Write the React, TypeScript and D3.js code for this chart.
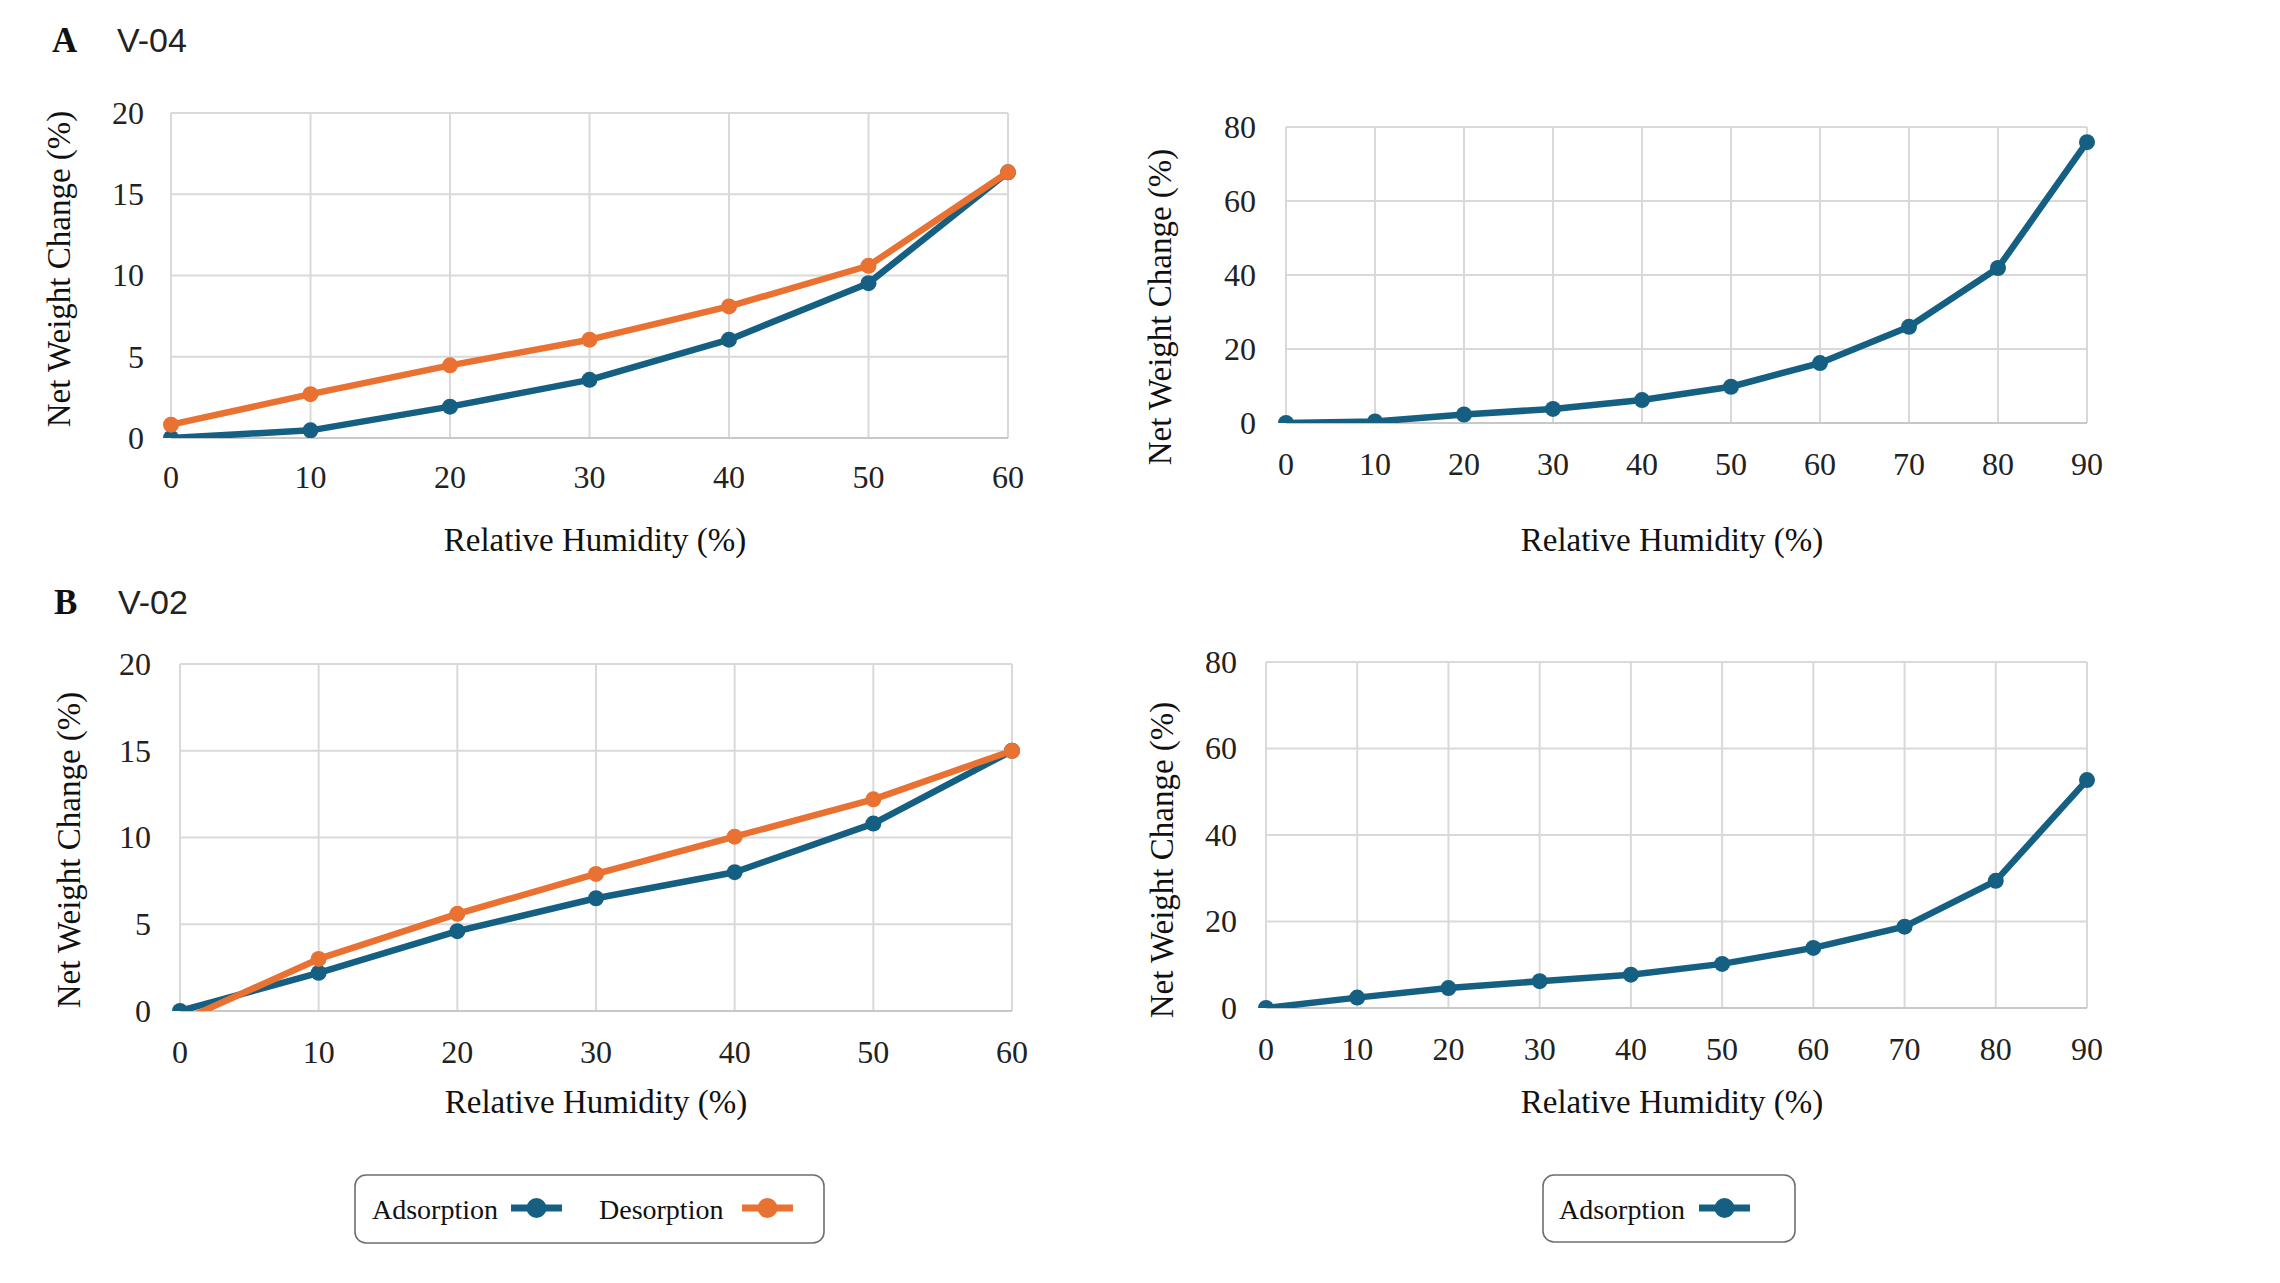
import React from "react";
import * as d3 from "d3";

// relative humidity steps
const rhShort = [0, 10, 20, 30, 40, 50, 60];
const rhLong = [0, 10, 20, 30, 40, 50, 60, 70, 80, 90];

// V-04
const v04Ads = [0, 0.47, 1.93, 3.58, 6.05, 9.53, 16.35];
const v04Des = [0.82, 2.7, 4.47, 6.05, 8.1, 10.6, 16.35];
const v04AdsLong = [0, 0.4, 2.3, 3.8, 6.2, 9.8, 16.2, 26.0, 41.9, 75.9];

// V-02
const v02Ads = [0, 2.2, 4.6, 6.5, 8.0, 10.8, 15.0];
const v02Des = [-0.6, 3.0, 5.6, 7.9, 10.05, 12.2, 15.0];
const v02AdsLong = [0, 2.4, 4.6, 6.2, 7.7, 10.2, 13.9, 18.8, 29.4, 52.7];

const ticksLow = [0, 5, 10, 15, 20];
const ticksHigh = [0, 20, 40, 60, 80];

const BLUE = "#156082";
const ORANGE = "#E97132";
const GRID = "#d9d9d9";
const SERIF = "'Liberation Serif', 'Times New Roman', serif";
const SANS = "'Liberation Sans', Arial, sans-serif";

type Series = { values: number[]; color: string };

type PanelProps = {
  id: string;
  left: number;
  right: number;
  top: number;
  bottom: number;
  xs: number[];
  yTicks: number[];
  series: Series[];
  yLabelX: number;
  xLabelY: number;
  xTitleX: number;
  xTitleY: number;
  yTitleX: number;
  yTitleY: number;
};

function Panel(p: PanelProps) {
  const x = d3
    .scaleLinear()
    .domain([p.xs[0], p.xs[p.xs.length - 1]])
    .range([p.left, p.right]);
  const y = d3
    .scaleLinear()
    .domain([0, p.yTicks[p.yTicks.length - 1]])
    .range([p.bottom, p.top]);
  const line = d3
    .line<number>()
    .x((_, i) => x(p.xs[i]))
    .y((d) => y(d));

  return (
    <g>
      <defs>
        <clipPath id={p.id}>
          <rect
            x={p.left - 14}
            y={p.top - 14}
            width={p.right - p.left + 28}
            height={p.bottom - p.top + 14}
          />
        </clipPath>
      </defs>
      {p.xs.map((v) => (
        <line
          key={"gx" + v}
          x1={x(v)}
          x2={x(v)}
          y1={p.top}
          y2={p.bottom}
          stroke={GRID}
          strokeWidth={2}
        />
      ))}
      {p.yTicks.map((v) => (
        <line
          key={"gy" + v}
          x1={p.left}
          x2={p.right}
          y1={y(v)}
          y2={y(v)}
          stroke={v === 0 ? "#c8c8c8" : GRID}
          strokeWidth={2}
        />
      ))}
      {p.yTicks.map((v) => (
        <text
          key={"ty" + v}
          x={p.yLabelX}
          y={y(v)}
          dy="0.34em"
          textAnchor="end"
          fontFamily={SERIF}
          fontSize={32}
          fill="#222"
        >
          {v}
        </text>
      ))}
      {p.xs.map((v) => (
        <text
          key={"tx" + v}
          x={x(v)}
          y={p.xLabelY}
          dy="0.34em"
          textAnchor="middle"
          fontFamily={SERIF}
          fontSize={32}
          fill="#222"
        >
          {v}
        </text>
      ))}
      <g clipPath={`url(#${p.id})`}>
        {p.series.map((s, k) => (
          <g key={"s" + k}>
            <path
              d={line(s.values) || ""}
              fill="none"
              stroke={s.color}
              strokeWidth={6.5}
              strokeLinejoin="round"
            />
            {s.values.map((v, i) => (
              <circle key={i} cx={x(p.xs[i])} cy={y(v)} r={8} fill={s.color} />
            ))}
          </g>
        ))}
      </g>
      <text
        x={p.xTitleX}
        y={p.xTitleY}
        dy="0.34em"
        textAnchor="middle"
        fontFamily={SERIF}
        fontSize={33}
        fill="#111"
      >
        Relative Humidity (%)
      </text>
      <text
        transform={`translate(${p.yTitleX},${p.yTitleY}) rotate(-90)`}
        textAnchor="middle"
        fontFamily={SERIF}
        fontSize={33}
        fill="#111"
      >
        Net Weight Change (%)
      </text>
    </g>
  );
}

function LegendItem({ x, y, label }: { x: number; y: number; label: string }) {
  return (
    <text x={x} y={y + 11} fontFamily={SERIF} fontSize={28} fill="#111">
      {label}
    </text>
  );
}

function Sample({ x1, x2, y, color }: { x1: number; x2: number; y: number; color: string }) {
  return (
    <g>
      <line x1={x1} x2={x2} y1={y} y2={y} stroke={color} strokeWidth={7} />
      <circle cx={(x1 + x2) / 2} cy={y} r={10} fill={color} />
    </g>
  );
}

export default function App() {
  return (
    <svg
      width={2280}
      height={1283}
      style={{ position: "absolute", left: 0, top: 0, background: "#fff" }}
    >
      <rect width={2280} height={1283} fill="#fff" />

      <text x={52} y={52} fontFamily={SERIF} fontWeight="bold" fontSize={35} fill="#111">
        A
      </text>
      <text x={117} y={52} fontFamily={SANS} fontSize={34} fill="#222">
        V-04
      </text>
      <text x={54} y={614} fontFamily={SERIF} fontWeight="bold" fontSize={35} fill="#111">
        B
      </text>
      <text x={118} y={614} fontFamily={SANS} fontSize={34} fill="#222">
        V-02
      </text>

      <Panel
        id="cA1"
        left={171}
        right={1008}
        top={113}
        bottom={438}
        xs={rhShort}
        yTicks={ticksLow}
        series={[
          { values: v04Ads, color: BLUE },
          { values: v04Des, color: ORANGE },
        ]}
        yLabelX={144}
        xLabelY={477}
        xTitleX={595}
        xTitleY={540}
        yTitleX={70}
        yTitleY={269}
      />
      <Panel
        id="cA2"
        left={1286}
        right={2087}
        top={127}
        bottom={423}
        xs={rhLong}
        yTicks={ticksHigh}
        series={[{ values: v04AdsLong, color: BLUE }]}
        yLabelX={1256}
        xLabelY={464}
        xTitleX={1672}
        xTitleY={540}
        yTitleX={1171}
        yTitleY={307}
      />
      <Panel
        id="cB1"
        left={180}
        right={1012}
        top={664}
        bottom={1011}
        xs={rhShort}
        yTicks={ticksLow}
        series={[
          { values: v02Ads, color: BLUE },
          { values: v02Des, color: ORANGE },
        ]}
        yLabelX={151}
        xLabelY={1052}
        xTitleX={596}
        xTitleY={1102}
        yTitleX={80}
        yTitleY={850}
      />
      <Panel
        id="cB2"
        left={1266}
        right={2087}
        top={662}
        bottom={1008}
        xs={rhLong}
        yTicks={ticksHigh}
        series={[{ values: v02AdsLong, color: BLUE }]}
        yLabelX={1237}
        xLabelY={1049}
        xTitleX={1672}
        xTitleY={1102}
        yTitleX={1173}
        yTitleY={860}
      />

      {/* legends */}
      <rect x={355} y={1175} width={469} height={68} rx={11} fill="#fff" stroke="#6e6e6e" strokeWidth={1.6} />
      <LegendItem x={372} y={1208} label="Adsorption" />
      <Sample x1={511} x2={562} y={1208} color={BLUE} />
      <LegendItem x={599} y={1208} label="Desorption" />
      <Sample x1={742} x2={793} y={1208} color={ORANGE} />

      <rect x={1543} y={1175} width={252} height={67} rx={11} fill="#fff" stroke="#6e6e6e" strokeWidth={1.6} />
      <LegendItem x={1559} y={1208} label="Adsorption" />
      <Sample x1={1699} x2={1750} y={1208} color={BLUE} />
    </svg>
  );
}
